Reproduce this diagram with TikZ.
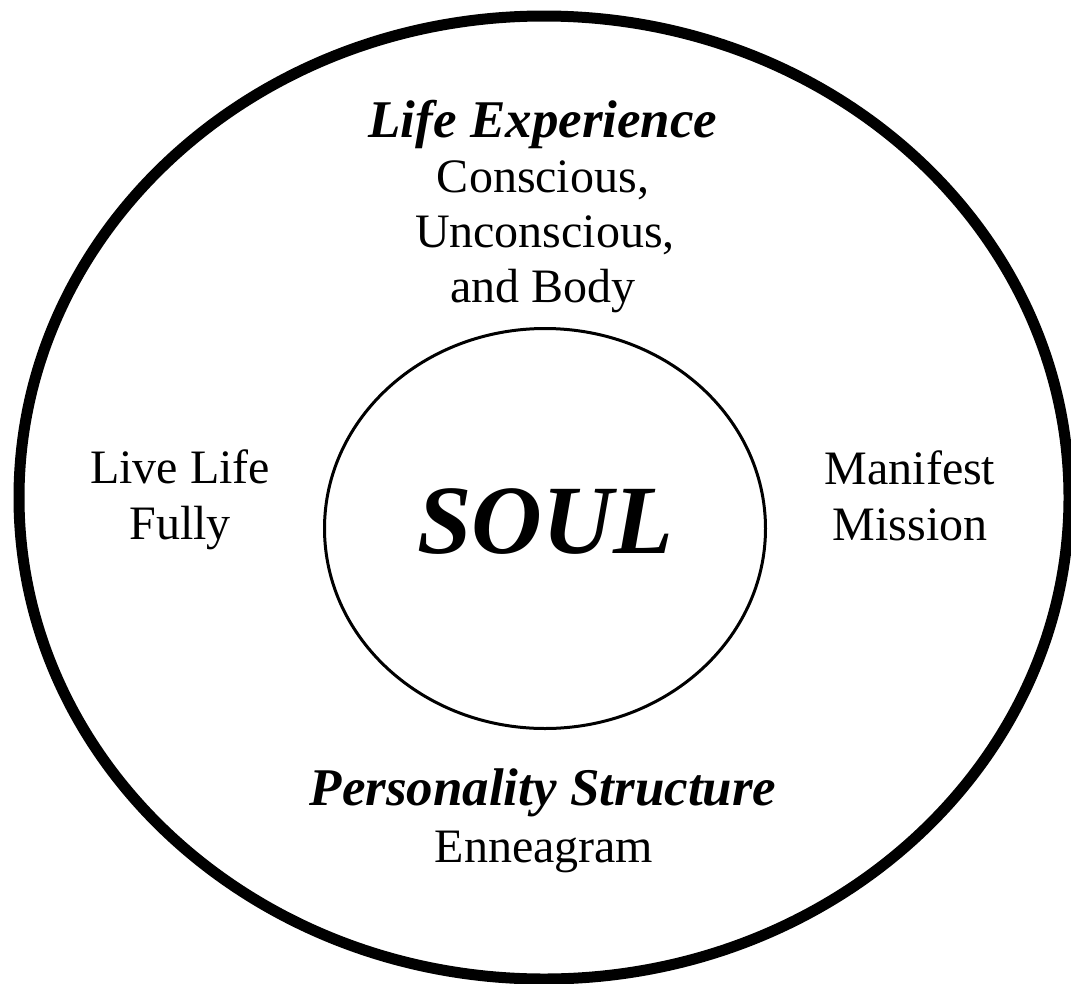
\documentclass[tikz,border=0pt]{standalone}
\usepackage{fontspec}
\setmainfont{Liberation Serif}
\tikzset{
  body/.style={anchor=base, inner sep=0pt, font=\fontsize{48}{55}\selectfont},
  head/.style={anchor=base, inner sep=0pt, font=\fontsize{53}{60}\selectfont\bfseries\itshape},
  core/.style={anchor=base, inner sep=0pt, font=\fontsize{98}{110}\selectfont\bfseries\itshape},
  outerring/.style={draw=black, line width=11pt},
  innerring/.style={draw=black, line width=3pt}
}
\begin{document}
\begin{tikzpicture}[x=1pt,y=1pt]
\useasboundingbox (0,0) rectangle (1071,-983);
\draw[outerring] (544,-497.5) ellipse [x radius=525, y radius=481.5];
\draw[innerring] (545,-528.5) ellipse [x radius=220.5, y radius=200];
\node[head] (lifeexp) at (543,-137) {Life Experience};
\node[body] (conscious) at (543,-192) {Conscious,};
\node[body] (unconscious) at (545,-247) {Unconscious,};
\node[body] (andbody) at (543,-302) {and Body};
\node[body] (livelife) at (180,-483) {Live Life};
\node[body] (fully) at (180,-539) {Fully};
\node[body] (manifest) at (910,-484) {Manifest};
\node[body] (mission) at (910,-540) {Mission};
\node[core] (soul) at (545,-553) {SOUL};
\node[head] (personality) at (543,-805) {Personality Structure};
\node[body] (enneagram) at (544,-862) {Enneagram};
\end{tikzpicture}
\end{document}
